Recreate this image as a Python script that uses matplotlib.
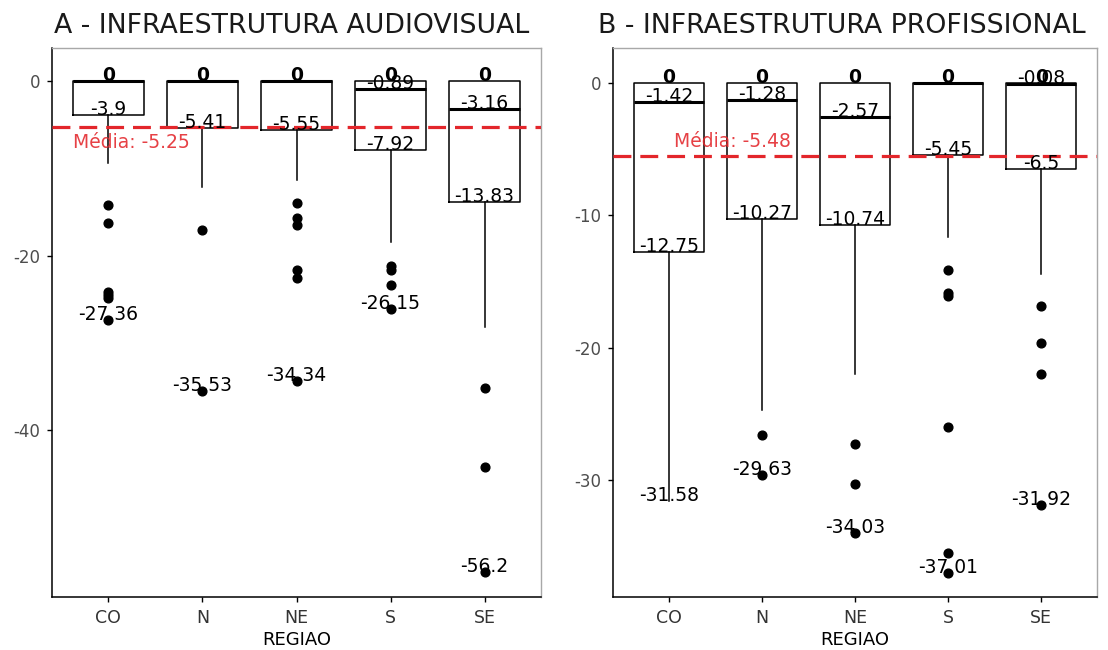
import matplotlib.pyplot as plt

plt.rcParams['font.family'] = ['DejaVu Sans']

regions = ['CO', 'N', 'NE', 'S', 'SE']

# A - infraestrutura audiovisual
a_max = [0, 0, 0, 0, 0]
a_q3 = [0, 0, 0, 0, 0]
a_med = [0, 0, 0, -0.89, -3.16]
a_q1 = [-3.9, -5.41, -5.55, -7.92, -13.83]
a_whislo = [-9.4, -12.1, -11.35, -18.4, -28.2]
a_min = [-27.36, -35.53, -34.34, -26.15, -56.2]
a_out = [[-14.2, -16.2, -24.1, -24.5, -24.9, -27.36],
         [-17.0, -35.53],
         [-14.0, -15.7, -16.5, -21.6, -22.5, -34.34],
         [-21.2, -21.6, -23.4, -26.15],
         [-35.2, -44.2, -56.2]]
a_mean = -5.25

# B - infraestrutura profissional
b_max = [0, 0, 0, 0, 0]
b_q3 = [0, 0, 0, 0, 0]
b_med = [-1.42, -1.28, -2.57, 0, -0.08]
b_q1 = [-12.75, -10.27, -10.74, -5.45, -6.5]
b_whislo = [-31.58, -24.7, -22.0, -11.6, -14.45]
b_min = [-31.58, -29.63, -34.03, -37.01, -31.92]
b_out = [[],
         [-26.6, -29.63],
         [-27.3, -30.3, -34.03],
         [-14.15, -15.9, -16.1, -26.0, -35.5, -37.01],
         [-16.86, -19.64, -21.97, -31.92]]
b_mean = -5.48

RED = '#e3262b'


def fmt(v):
    return f"{round(v, 2):g}"


def panel(ax, mx, q3, med, q1, wlo, mn, outs, mean, title, ylim, yticks,
          mean_xy, mean_va, title_x):
    stats = []
    for i, r in enumerate(regions):
        stats.append(dict(label=r, med=med[i], q1=q1[i], q3=q3[i],
                          whislo=wlo[i], whishi=mx[i], fliers=outs[i]))
    pos = list(range(1, len(regions) + 1))
    ax.bxp(stats, positions=pos, widths=0.75, showcaps=False,
           boxprops=dict(color='black', linewidth=1.1),
           whiskerprops=dict(color='black', linewidth=1.1),
           medianprops=dict(color='black', linewidth=2.2),
           flierprops=dict(marker='o', markerfacecolor='black',
                           markeredgecolor='black', markersize=6.3))

    # five-number labels: max, Q3, median, Q1, min
    # (repeated values stack on top of each other and print heavier)
    for i, p in enumerate(pos):
        five = [mx[i], q3[i], med[i], q1[i], mn[i]]
        for v in set(five):
            w = 'bold' if five.count(v) > 1 else 'normal'
            ax.text(p, v, fmt(v), ha='center', va='baseline',
                    fontsize=13.5, color='black', fontweight=w, zorder=5)

    ax.axhline(mean, color=RED, linestyle=(0, (5.6, 2.8)), linewidth=2.3,
               zorder=4)
    ax.text(mean_xy[0], mean_xy[1], f"Média: {mean}", color=RED,
            fontsize=13.5, ha='left', va=mean_va, alpha=0.88, zorder=6)

    ax.set_xlim(0.4, 5.6)
    ax.set_ylim(*ylim)
    ax.set_yticks(yticks)
    ax.set_yticklabels([str(t) for t in yticks])
    ax.set_xticks(pos)
    ax.set_xticklabels(regions)
    ax.tick_params(axis='both', length=3.6, width=1.0, color='black',
                   labelcolor='#4d4d4d', labelsize=12, pad=5)
    ax.tick_params(axis='x', labelcolor='#333333', labelsize=12.5)
    ax.set_xlabel('REGIAO', fontsize=13, color='black', labelpad=3)
    for s in ('left', 'bottom'):
        ax.spines[s].set_color('black')
        ax.spines[s].set_linewidth(1.1)
    for s in ('top', 'right'):
        ax.spines[s].set_color('#a8a8a8')
        ax.spines[s].set_linewidth(1.0)
    ax.figure.text(title_x, 1 - 33 / 650, title, fontsize=19.3,
                   ha='left', va='baseline', color='#1a1a1a')


fig = plt.figure(figsize=(11.08, 6.5), dpi=100)
bottom = 1 - 597 / 650
height = 549 / 650
ax_a = fig.add_axes([52 / 1108, bottom, 489 / 1108, height])
ax_b = fig.add_axes([613 / 1108, bottom, 484 / 1108, height])

panel(ax_a, a_max, a_q3, a_med, a_q1, a_whislo, a_min, a_out, a_mean,
      'A - INFRAESTRUTURA AUDIOVISUAL', (-59.1, 3.8), [0, -20, -40],
      (0.62, -5.9), 'top', 54 / 1108)
panel(ax_b, b_max, b_q3, b_med, b_q1, b_whislo, b_min, b_out, b_mean,
      'B - INFRAESTRUTURA PROFISSIONAL', (-38.85, 2.65), [0, -10, -20, -30],
      (1.05, -5.1), 'bottom', 598 / 1108)

fig.savefig('out.png', dpi=100)
